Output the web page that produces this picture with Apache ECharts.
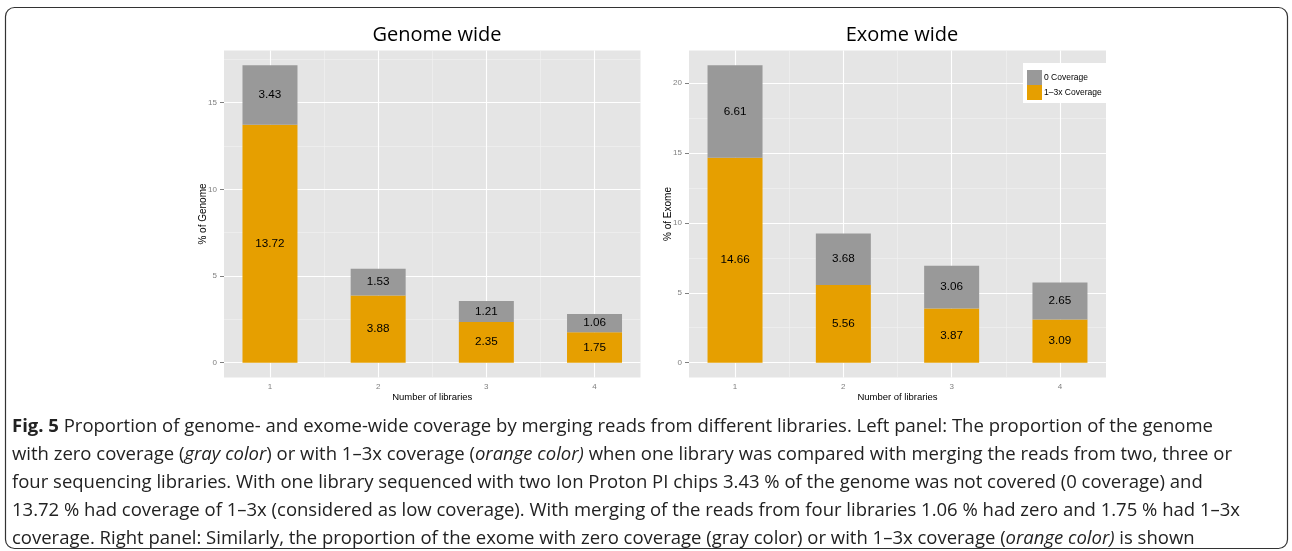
<!DOCTYPE html>
<html>
<head>
<meta charset="utf-8">
<script src="https://cdn.jsdelivr.net/npm/echarts@6/dist/echarts.min.js"></script>
<style>
html,body{margin:0;padding:0;background:#fff;}
#c{width:1292px;height:551px;}
</style>
</head>
<body>
<div id="c"></div>
<script>
// ---- data ----
const libraries = [1, 2, 3, 4];
const libraryLabels = ['1', '2', '3', '4'];
const genomeZero = [3.43, 1.53, 1.21, 1.06];
const genomeLow = [13.72, 3.88, 2.35, 1.75];
const exomeZero = [6.61, 3.68, 3.06, 2.65];
const exomeLow = [14.66, 5.56, 3.87, 3.09];
const genomeTicks = [0, 5, 10, 15];
const genomeMinor = [2.5, 7.5, 12.5, 17.5];
const exomeTicks = [0, 5, 10, 15, 20];
const exomeMinor = [2.5, 7.5, 12.5, 17.5];
const xMinor = [1.5, 2.5, 3.5];
const seriesNames = ['0 Coverage', '1\u20133x Coverage'];
const panelTitles = ['Genome wide', 'Exome wide'];
const yTitles = ['% of Genome', '% of Exome'];
const xTitle = 'Number of libraries';

const ORANGE = '#E69F00', GRAY = '#999999';
const tickFont = 'Liberation Sans';
const X_MIN = 0.575, X_MAX = 4.425;   // ggplot discrete expansion
const Y_RANGES = [[-0.858, 18.008], [-1.0635, 22.3335]];

function gridLines(gi, majorY, minorY) {
  const d = [];
  const minorStyle = { color: '#F2F2F2', width: 0.6, type: 'solid' };
  const majorStyle = { color: '#FFFFFF', width: 1.1, type: 'solid' };
  minorY.forEach(v => d.push({ yAxis: v, lineStyle: minorStyle }));
  xMinor.forEach(v => d.push({ xAxis: v, lineStyle: minorStyle }));
  majorY.forEach(v => d.push({ yAxis: v, lineStyle: majorStyle }));
  libraries.forEach(v => d.push({ xAxis: v, lineStyle: majorStyle }));
  return {
    type: 'line', data: [], xAxisIndex: gi, yAxisIndex: gi, silent: true,
    markLine: { silent: true, symbol: 'none', z: 1, animation: false, label: { show: false }, data: d }
  };
}

function barSeries(name, vals, color, gi) {
  return {
    name: name, type: 'bar', stack: 's' + gi, xAxisIndex: gi, yAxisIndex: gi,
    data: vals, barWidth: 55, z: 2,
    itemStyle: { color: color },
    label: {
      show: true, position: 'inside', color: '#000', fontSize: 11.7, fontFamily: tickFont,
      formatter: p => Number(p.value).toFixed(2)
    }
  };
}

function bgXAxis(gi) {
  return {
    type: 'value', gridIndex: gi, min: X_MIN, max: X_MAX,
    axisLine: { show: false }, splitLine: { show: false },
    axisTick: { show: true, length: 4, customValues: libraries, lineStyle: { color: '#7F7F7F' } },
    axisLabel: { customValues: libraries, color: '#7F7F7F', fontSize: 8, fontFamily: tickFont, margin: 5,
      formatter: v => libraryLabels[libraries.indexOf(v)] },
    name: xTitle, nameLocation: 'middle', nameGap: 15, nameMoveOverlap: false,
    nameTextStyle: { color: '#000', fontSize: 9.5, fontFamily: tickFont }
  };
}

function bgYAxis(gi, range, ticks, title) {
  return {
    type: 'value', gridIndex: gi, min: range[0], max: range[1],
    axisLine: { show: false }, splitLine: { show: false },
    axisTick: { show: true, length: 4, customValues: ticks, lineStyle: { color: '#7F7F7F' } },
    axisLabel: { customValues: ticks, color: '#7F7F7F', fontSize: 8, fontFamily: tickFont, margin: 7 },
    name: title, nameLocation: 'middle', nameGap: 16, nameRotate: 90, nameMoveOverlap: false,
    nameTextStyle: { color: '#000', fontSize: 10, fontFamily: tickFont }
  };
}

function barXAxis(gi) {
  return { type: 'category', gridIndex: gi, data: libraryLabels, show: false, boundaryGap: true };
}
function barYAxis(gi, range) {
  return { type: 'value', gridIndex: gi, min: range[0], max: range[1], show: false };
}

// panel geometry (pixels)
const panels = [{ left: 224, width: 416.5 }, { left: 689, width: 417 }];
const PTOP = 50.5, PH = 327;
function barGrid(p) {
  const band = p.width / (X_MAX - X_MIN);
  return { left: p.left - (X_MIN - 0.5) * band, top: PTOP, width: band * 4, height: PH, show: false };
}

const capFont = 'Open Sans';
const capSize = 18.5;
const rich = {
  b: { fontWeight: 'bold', fontSize: capSize, fontFamily: capFont, fill: '#222' },
  i: { fontStyle: 'italic', fontSize: capSize, fontFamily: capFont, fill: '#222' }
};
const captionLines = [
  '{b|Fig. 5} Proportion of genome- and exome-wide coverage by merging reads from different libraries. Left panel: The proportion of the genome',
  'with zero coverage ({i|gray color}) or with 1\u20133x coverage ({i|orange color)} when one library was compared with merging the reads from two, three or',
  'four sequencing libraries. With one library sequenced with two Ion Proton PI chips 3.43 % of the genome was not covered (0 coverage) and',
  '13.72 % had coverage of 1\u20133x (considered as low coverage). With merging of the reads from four libraries 1.06 % had zero and 1.75 % had 1\u20133x',
  'coverage. Right panel: Similarly, the proportion of the exome with zero coverage (gray color) or with 1\u20133x coverage ({i|orange color)} is shown'
];

const graphics = [{
  type: 'rect', silent: true, z: -1,
  shape: { x: 5.5, y: 7.5, width: 1282, height: 541, r: 9 },
  style: { fill: 'none', stroke: '#333', lineWidth: 1.2 }
}];
captionLines.forEach((t, i) => graphics.push({
  type: 'text', left: 12, top: 417 + i * 28.1, silent: true,
  style: { text: t, rich: rich, fontSize: capSize, fontFamily: capFont, fill: '#222' }
}));

const chart = echarts.init(document.getElementById('c'), null, { renderer: 'canvas' });
chart.setOption({
  animation: false,
  backgroundColor: '#fff',
  title: [
    { text: panelTitles[0], left: 432, top: 20, textAlign: 'center',
      textStyle: { fontSize: 20, fontWeight: 'normal', color: '#000', fontFamily: 'Open Sans' } },
    { text: panelTitles[1], left: 897, top: 20, textAlign: 'center',
      textStyle: { fontSize: 20, fontWeight: 'normal', color: '#000', fontFamily: 'Open Sans' } }
  ],
  legend: {
    data: seriesNames, orient: 'vertical', left: 1023, top: 63,
    backgroundColor: '#fff', padding: [7, 6, 3, 4], itemGap: 0,
    itemWidth: 15, itemHeight: 15, icon: 'rect',
    textStyle: { fontSize: 8.5, fontFamily: tickFont, color: '#000', padding: [0, 0, 0, -3] }
  },
  grid: [
    { left: panels[0].left, top: PTOP, width: panels[0].width, height: PH, show: true, backgroundColor: '#E5E5E5', borderWidth: 0 },
    { left: panels[1].left, top: PTOP, width: panels[1].width, height: PH, show: true, backgroundColor: '#E5E5E5', borderWidth: 0 },
    barGrid(panels[0]),
    barGrid(panels[1])
  ],
  xAxis: [bgXAxis(0), bgXAxis(1), barXAxis(2), barXAxis(3)],
  yAxis: [
    bgYAxis(0, Y_RANGES[0], genomeTicks, yTitles[0]),
    bgYAxis(1, Y_RANGES[1], exomeTicks, yTitles[1]),
    barYAxis(2, Y_RANGES[0]),
    barYAxis(3, Y_RANGES[1])
  ],
  series: [
    gridLines(0, genomeTicks, genomeMinor),
    gridLines(1, exomeTicks, exomeMinor),
    barSeries(seriesNames[1], genomeLow, ORANGE, 2),
    barSeries(seriesNames[0], genomeZero, GRAY, 2),
    barSeries(seriesNames[1], exomeLow, ORANGE, 3),
    barSeries(seriesNames[0], exomeZero, GRAY, 3)
  ],
  graphic: graphics
});
</script>
</body>
</html>
